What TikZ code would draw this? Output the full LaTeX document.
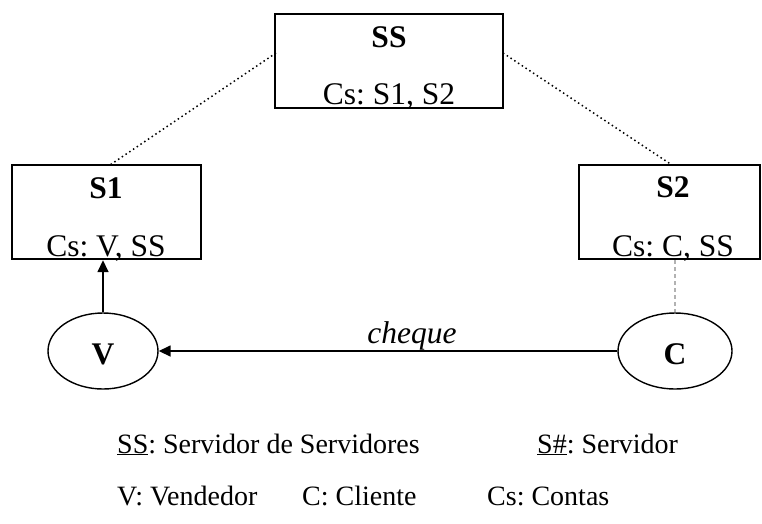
\documentclass[tikz,border=0pt]{standalone}
\usepackage{fontspec}
\setmainfont{Liberation Serif}
\frenchspacing
\usetikzlibrary{arrows.meta,shapes.geometric}
\begin{document}
\begin{tikzpicture}[x=1pt,y=-1pt,
  box/.style={draw,line width=2.4pt,minimum width=#1,minimum height=94pt,inner sep=0pt},
  ell/.style={draw,line width=1.4pt,ellipse,minimum width=#1,minimum height=76pt,inner sep=0pt},
  txt/.style={font=\fontsize{31.5}{36}\selectfont,inner sep=0pt,anchor=base},
  btxt/.style={font=\fontsize{31.5}{36}\selectfont\bfseries,inner sep=0pt,anchor=base},
  leg/.style={font=\fontsize{28}{32}\selectfont,inner sep=0pt,anchor=base west},
  arr/.style={line width=1.6pt,-{Triangle[length=12pt,width=11pt]}},
  dots/.style={line width=1.5pt,dash pattern=on 1.5pt off 3pt},
  gdash/.style={line width=1.5pt,draw=black!30,dash pattern=on 4pt off 3pt}]
\useasboundingbox (0,0) rectangle (762,523);
% boxes
\node[box=228pt] (SS) at (389,61) {};
\node[box=189pt] (S1) at (106.5,212) {};
\node[box=181pt] (S2) at (669.5,212) {};
\node[btxt] (SSt) at (389,47) {SS};
\node[txt] (SSc) at (389,104) {Cs: S1, S2};
\node[btxt] (S1t) at (106,198) {S1};
\node[txt] (S1c) at (106,256) {Cs: V, SS};
\node[btxt] (S2t) at (673,197) {S2};
\node[txt] (S2c) at (673,256) {Cs: C, SS};
% ellipses
\node[ell=110pt] (V) at (103,351) {};
\node[ell=114pt] (C) at (675,351) {};
\node[btxt] (Vt) at (103,364) {V};
\node[btxt] (Ct) at (675,364) {C};
% connectors
\coordinate (SSl) at (276,53);
\coordinate (SSr) at (503,53);
\coordinate (S1top) at (110,165);
\coordinate (S2top) at (672,165);
\draw[dots] (SSl) -- (S1top);
\draw[dots] (SSr) -- (S2top);
\draw[arr] (V.north) -- (V.north |- S1.south);
\draw[arr] (C.west) -- (V.east);
\draw[gdash] (S2.south -| C.north) -- (C.north);
\node[font=\fontsize{31.5}{36}\selectfont\itshape,inner sep=0pt,anchor=base] (chq) at (412,343) {cheque};
% legend
\node[leg] (L1) at (117,453) {\underline{SS}: Servidor de Servidores};
\node[leg] (L2) at (537,453) {\underline{S\#}: Servidor};
\node[leg] (L3) at (117,505) {V: Vendedor};
\node[leg] (L4) at (302,505) {C: Cliente};
\node[leg] (L5) at (487,505) {Cs: Contas};
\end{tikzpicture}
\end{document}
